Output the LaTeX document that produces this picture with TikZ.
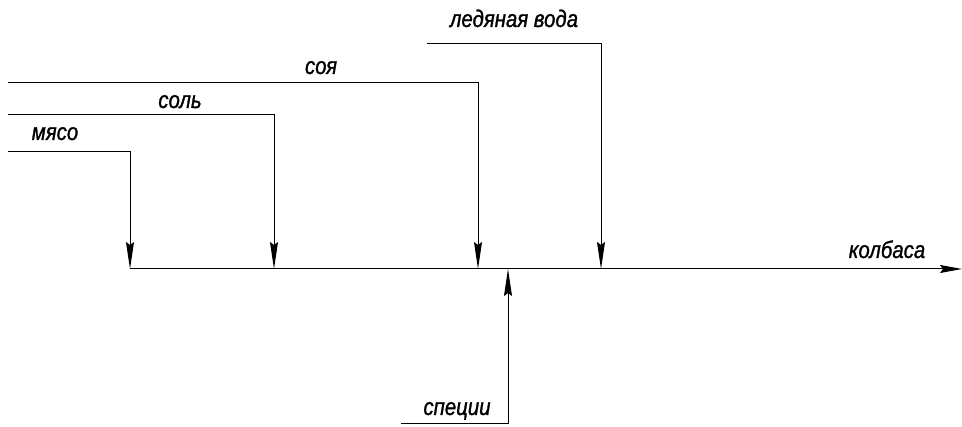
\documentclass[tikz,border=0pt]{standalone}
\usepackage{fontspec}
\setmainfont{Liberation Sans}
\newfontfamily\lblfont{Liberation Sans}[FakeStretch=0.85,FakeBold=1.2,ItalicFont={* Italic}]
\usetikzlibrary{arrows.meta}
\begin{document}
\begin{tikzpicture}[x=1pt,y=-1pt,
  flow/.style={line width=1pt,-{Stealth[length=27pt,width=8pt,inset=3pt]}},
  mainflow/.style={line width=1pt,-{Stealth[length=22pt,width=8pt,inset=3pt]}},
  lbl/.style={font=\lblfont\itshape\fontsize{24}{24}\selectfont,anchor=base,inner sep=0pt}]
\useasboundingbox (0,0) rectangle (962,427);
% coordinates
\coordinate (m0) at (8,152);   \coordinate (m1) at (130,152);  \coordinate (m2) at (130,269);
\coordinate (s0) at (8,115);   \coordinate (s1) at (274,115);  \coordinate (s2) at (274,269);
\coordinate (y0) at (8,83);    \coordinate (y1) at (478,83);   \coordinate (y2) at (478,269);
\coordinate (w0) at (427,44);  \coordinate (w1) at (601,44);   \coordinate (w2) at (601,269);
\coordinate (p0) at (401,424); \coordinate (p1) at (508,424);  \coordinate (p2) at (508,269);
\coordinate (k0) at (130,269); \coordinate (k1) at (962,269);
% labels
\node[lbl] (lm) at (55,140) {мясо};
\node[lbl] (ls) at (180,108) {соль};
\node[lbl] (ly) at (321,74) {соя};
\node[lbl] (lw) at (514,27) {ледяная вода};
\node[lbl] (lk) at (887,258) {колбаса};
\node[lbl] (lp) at (457,415) {специи};
% connectors
\draw[flow] (m0) -- (m1) -- (m2);
\draw[flow] (s0) -- (s1) -- (s2);
\draw[flow] (y0) -- (y1) -- (y2);
\draw[flow] (w0) -- (w1) -- (w2);
\draw[flow] (p0) -- (p1) -- (p2);
\draw[mainflow] (k0) -- (k1);
\end{tikzpicture}
\end{document}
